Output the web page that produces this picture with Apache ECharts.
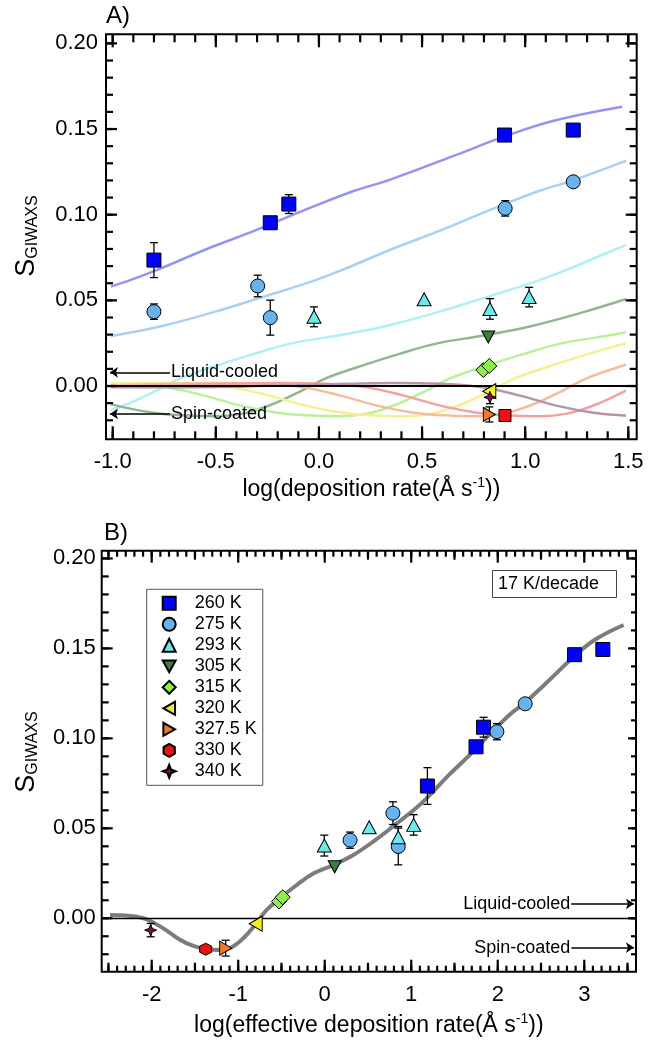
<!DOCTYPE html>
<html><head><meta charset="utf-8">
<script src="https://cdn.jsdelivr.net/npm/echarts@6/dist/echarts.min.js"></script>
<style>html,body{margin:0;padding:0;background:#fff}#c{width:652px;height:1040px}</style>
</head><body><div id="c"></div>
<script>
const FONT = 'Liberation Sans, Arial, sans-serif';

// ================= DATA =================
const temps = ['260 K','275 K','293 K','305 K','315 K','320 K','327.5 K','330 K','340 K'];

// Panel A x = log(deposition rate); Panel B x = log(effective deposition rate); y = S_GIWAXS; e = error bar half-height
const xA_260 = [-0.800, -0.236, -0.146, 0.900, 1.233];
const xB_260 = [ 1.187,  1.749,  1.836, 2.888, 3.215];
const y_260  = [ 0.0735, 0.0953, 0.1062, 0.1465, 0.1494];
const e_260  = [ 0.0102, 0.0010, 0.0055, 0.0020, 0.0020];

const xA_275 = [-0.800, -0.297, -0.236, 0.903, 1.233];
const xB_275 = [ 0.293,  0.788,  0.850, 1.990, 2.317];
const y_275  = [ 0.0434, 0.0584, 0.0399, 0.1037, 0.1192];
const e_275  = [ 0.0045, 0.0063, 0.0102, 0.0045, 0];

const xA_293 = [-0.024, 0.510, 0.829, 1.019];
const xB_293 = [-0.005, 0.514, 0.850, 1.028];
const y_293  = [ 0.0404, 0.0506, 0.0450, 0.0519];
const e_293  = [ 0.0058, 0, 0.0060, 0.0057];

const xA_305 = [0.821];   const xB_305 = [0.115];   const y_305 = [0.0286];  const e_305 = [0];
const xA_315 = [0.797, 0.826]; const xB_315 = [-0.529, -0.486]; const y_315 = [0.0093, 0.0117]; const e_315 = [0, 0];
const xA_320 = [0.826];   const xB_320 = [-0.798];  const y_320 = [-0.0030]; const e_320 = [0];
const xA_3275 = [0.826];  const xB_3275 = [-1.145]; const y_3275 = [-0.0166]; const e_3275 = [0.0044];
const xA_330 = [0.902];   const xB_330 = [-1.376];  const y_330 = [-0.0172]; const e_330 = [0];
const xA_340 = [0.829];   const xB_340 = [-2.012];  const y_340 = [-0.0066]; const e_340 = [0.0037];

// master curve (panel B, grey)
const masterX = [-2.482,-2.251,-2.058,-1.866,-1.673,-1.519,-1.376,-1.210,-1.075,-0.941,-0.798,-0.671,-0.517,-0.324,-0.132,0.099,0.331,0.572,0.812,1.053,1.197,1.436,1.677,1.917,2.157,2.317,2.638,2.879,3.119,3.455];
const masterY = [0.0018,0.0013,-0.0006,-0.0056,-0.0119,-0.0154,-0.0171,-0.0176,-0.0161,-0.0111,-0.0032,0.0046,0.0111,0.0185,0.0249,0.0296,0.0352,0.0430,0.0519,0.0611,0.0676,0.0797,0.0908,0.1028,0.1140,0.1199,0.1343,0.1454,0.1547,0.1630];
const leadX = [-3.90, -3.30, -2.95, -2.70];
const leadY = [-0.0008, -0.0005, 0.0005, 0.0013];
// horizontal shift between panels (B = A + shift), 17 K/decade
const shiftAB = [1.985, 1.087, 0.000, -0.706, -1.310, -1.624, -1.971, -2.278, -2.841];

// reference levels (liquid-cooled, spin-coated)
const refLC = 0.008, refSC = -0.0163;

// tick values
const aXMajor = [-1.0, -0.5, 0.0, 0.5, 1.0, 1.5];
const yMajor  = [0.00, 0.05, 0.10, 0.15, 0.20];
const bXMajor = [-2, -1, 0, 1, 2, 3];
const bXMid   = [-2.5, -1.5, -0.5, 0.5, 1.5, 2.5, 3.5];
const steps = (a, b, d) => { const o = []; for (let i = 0; a + i * d <= b + 1e-9; i++) o.push(Math.round((a + i * d) * 1000) / 1000); return o; };
const aXMinor = steps(-1.0, 1.5, 0.1);
const bXMinor = steps(-2.5, 3.5, 0.1);
const yMinor  = steps(-0.02, 0.20, 0.01);

// ================= STYLE =================
const markerColor = ['#0000ff','#66b3f0','#6ee8e8','#3d7d3d','#8fee4c','#f2ee2a','#f07a28','#ee1111','#7a1040'];
const curveColor  = ['#9494ee','#a9d0f4','#aef0f4','#92b592','#b8f09c','#f4f090','#f4bc9c','#f0a2a2','#b892a8'];
const SYM = {
  sq:'rect', ci:'circle', up:'triangle',
  dn:'path://M0,0L10,0L5,9Z', di:'diamond',
  lt:'path://M0,5L9,0L9,10Z', rt:'path://M9,5L0,0L0,10Z',
  hex:'path://M5,0L9.33,2.5L9.33,7.5L5,10L0.67,7.5L0.67,2.5Z',
  star:'path://M5,0L6.4,3.6L10,5L6.4,6.4L5,10L3.6,6.4L0,5L3.6,3.6Z'
};
const symA = [SYM.sq, SYM.ci, SYM.up, SYM.dn, SYM.di, SYM.lt, SYM.rt, SYM.sq, SYM.star];
const symB = [SYM.sq, SYM.ci, SYM.up, SYM.dn, SYM.di, SYM.lt, SYM.rt, SYM.hex, SYM.star];
const symSize = [14, 14, [14,13], [13,12], 15, [13,15], [12,14], 12, 12];

const XA = [xA_260, xA_275, xA_293, xA_305, xA_315, xA_320, xA_3275, xA_330, xA_340];
const XB = [xB_260, xB_275, xB_293, xB_305, xB_315, xB_320, xB_3275, xB_330, xB_340];
const YS = [y_260, y_275, y_293, y_305, y_315, y_320, y_3275, y_330, y_340];
const ES = [e_260, e_275, e_293, e_305, e_315, e_320, e_3275, e_330, e_340];

// ================= AXES =================
const A = {min: -1.0325, max: 1.5407, ymin: -0.0311, ymax: 0.2053};
const B = {min: -2.578, max: 3.598, ymin: -0.0297, ymax: 0.2043};

function ax(o) {
  const a = {
    type: 'value', gridIndex: o.grid, min: o.min, max: o.max, position: o.pos,
    axisLine: {show: false, onZero: false},
    splitLine: {show: false}, minorTick: {show: false},
    axisTick: {show: false},
    axisLabel: {show: false}
  };
  if (o.labels) a.axisLabel = {show: true, customValues: o.labels, formatter: o.fmt, fontSize: 22, fontFamily: FONT, color: '#000', margin: o.margin || 10};
  if (o.name) {
    a.name = o.name; a.nameLocation = 'middle'; a.nameGap = o.nameGap;
    a.nameTextStyle = {color: '#000', rich: {
      t: {fontSize: 23, fontFamily: FONT, color: '#000'},
      s: {fontSize: 14, fontFamily: FONT, color: '#000', padding: [0, 0, 13, 0]}
    }};
  }
  if (o.hidden) a.show = false;
  return a;
}
const f1 = v => v.toFixed(1), f2 = v => v.toFixed(2), f0 = v => String(Math.round(v));

const xAxis = [
  ax({grid:0, min:A.min, max:A.max, pos:'bottom', labels:aXMajor, fmt:f1, margin:12,
      name:'{t|log(deposition rate(Å s}{s|-1}{t|))}', nameGap:37}),
  ax({grid:1, min:-1.0, max:1.48, pos:'bottom', hidden:true}),
  ax({grid:2, min:B.min, max:B.max, pos:'bottom', labels:bXMajor, fmt:f0, margin:12,
      name:'{t|log(effective deposition rate(Å s}{s|-1}{t|))}', nameGap:40})
];
const yAxis = [
  ax({grid:0, min:A.ymin, max:A.ymax, pos:'left', labels:yMajor, fmt:f2, margin:8}),
  ax({grid:1, min:A.ymin, max:A.ymax, pos:'left', hidden:true}),
  ax({grid:2, min:B.ymin, max:B.ymax, pos:'left', labels:yMajor, fmt:f2, margin:6})
];

// ================= SERIES =================
const series = [];
const master = masterX.map((x, i) => [x, masterY[i]]);
const modelA = leadX.map((x, i) => [x, leadY[i]]).concat(master);

// inward frame ticks drawn through the axes' scales
function xTickSeries(gi, vals, edge, len) {   // len > 0 : upward from edge, len < 0 : downward
  return {type:'custom', xAxisIndex:gi, yAxisIndex:gi, silent:true, z:4,
    data: vals.map(v => [v, 0]), encode:{x:0, y:1},
    renderItem: (params, api) => {
      const p = api.coord([api.value(0), edge]);
      return {type:'line', shape:{x1:p[0], y1:p[1], x2:p[0], y2:p[1] - len}, style:{stroke:'#000', lineWidth:2.2}};
    }};
}
function yTickSeries(gi, vals, edge, len) {   // len > 0 : rightward from edge, len < 0 : leftward
  return {type:'custom', xAxisIndex:gi, yAxisIndex:gi, silent:true, z:4,
    data: vals.map(v => [0, v]), encode:{x:0, y:1},
    renderItem: (params, api) => {
      const p = api.coord([edge, api.value(1)]);
      return {type:'line', shape:{x1:p[0], y1:p[1], x2:p[0] + len, y2:p[1]}, style:{stroke:'#000', lineWidth:2.2}};
    }};
}
series.push(
  xTickSeries(0, aXMajor, A.ymin, 13), xTickSeries(0, aXMinor, A.ymin, 8),
  xTickSeries(0, aXMajor, A.ymax, -13), xTickSeries(0, aXMinor, A.ymax, -8),
  yTickSeries(0, yMajor, A.min, 11), yTickSeries(0, yMinor, A.min, 7),
  yTickSeries(0, yMajor, A.max, -11), yTickSeries(0, yMinor, A.max, -7),
  xTickSeries(2, bXMajor, B.ymin, 12), xTickSeries(2, bXMid, B.ymin, 9), xTickSeries(2, bXMinor, B.ymin, 6),
  xTickSeries(2, bXMajor, B.ymax, -12), xTickSeries(2, bXMid, B.ymax, -9), xTickSeries(2, bXMinor, B.ymax, -6),
  yTickSeries(2, yMajor, B.min, 11), yTickSeries(2, yMinor, B.min, 7),
  yTickSeries(2, yMajor, B.max, -8), yTickSeries(2, yMinor, B.max, -5)
);

// panel A model curves
temps.forEach((t, i) => {
  series.push({type:'line', xAxisIndex:1, yAxisIndex:1, silent:true, symbol:'none', smooth:0.4, clip:true, z:2,
    data: modelA.map(p => [p[0] - shiftAB[i], p[1]]),
    lineStyle:{color:curveColor[i], width:2.5}});
});
// panel B master curve
series.push({type:'line', xAxisIndex:2, yAxisIndex:2, silent:true, symbol:'none', smooth:0.4, z:2,
  data: master, lineStyle:{color:'#7c7c7c', width:4}});

function errSeries(xi, yi, pts) {
  return {type:'custom', xAxisIndex:xi, yAxisIndex:yi, silent:true, z:4, data: pts,
    encode:{x:0, y:1},
    renderItem: (params, api) => {
      const x = api.value(0), y = api.value(1), e = api.value(2);
      if (!e) return null;
      const t = api.coord([x, y + e]), b = api.coord([x, y - e]), hw = 4;
      const st = {stroke:'#000', lineWidth:1.3};
      return {type:'group', children:[
        {type:'line', shape:{x1:t[0], y1:t[1], x2:b[0], y2:b[1]}, style:st},
        {type:'line', shape:{x1:t[0]-hw, y1:t[1], x2:t[0]+hw, y2:t[1]}, style:st},
        {type:'line', shape:{x1:b[0]-hw, y1:b[1], x2:b[0]+hw, y2:b[1]}, style:st}
      ]};
    }};
}
const errA = [], errB = [];
temps.forEach((t, i) => YS[i].forEach((y, j) => { errA.push([XA[i][j], y, ES[i][j]]); errB.push([XB[i][j], y, ES[i][j]]); }));
series.push(errSeries(0, 0, errA));
series.push(errSeries(2, 2, errB));

const arrowLabel = {show:true, position:'start', distance:1, fontSize:18, fontFamily:FONT, color:'#000', padding:[0,0,10,0]};
function refLines(x0, x1) {
  return {silent:true, symbol:['none','arrow'], symbolSize:8, animation:false,
    lineStyle:{color:'#000', width:1.5, type:'solid'},
    label: arrowLabel,
    data:[
      [{coord:[x0, refLC], label:{formatter:'Liquid-cooled'}}, {coord:[x1, refLC]}],
      [{coord:[x0, refSC], label:{formatter:'Spin-coated'}}, {coord:[x1, refSC]}]
    ]};
}
const zeroLine = w => ({silent:true, symbol:'none', animation:false, label:{show:false},
  lineStyle:{color:'#000', width:w, type:'solid'}, data:[{yAxis:0}]});

temps.forEach((t, i) => {
  const sA = {type:'scatter', name:t, xAxisIndex:0, yAxisIndex:0, z:5,
    data: XA[i].map((x, j) => [x, YS[i][j]]), symbol:symA[i], symbolSize:symSize[i],
    itemStyle:{color:markerColor[i], borderColor:'#000', borderWidth:1, opacity:1}};
  const sB = {type:'scatter', name:t, xAxisIndex:2, yAxisIndex:2, z:5,
    data: XB[i].map((x, j) => [x, YS[i][j]]), symbol:symB[i], symbolSize:symSize[i],
    itemStyle:{color:markerColor[i], borderColor:'#000', borderWidth:1, opacity:1}};
  if (i === 0) { sA.markLine = refLines(-0.722, -1.013); sB.markLine = refLines(2.85, 3.574); }
  if (i === 1) { sA.markLine = zeroLine(1.8); sB.markLine = zeroLine(1.3); }
  series.push(sB, sA);
});

const yTitle = (y) => ({type:'text', x:27, y:y, rotation:Math.PI/2, silent:true,
  style:{text:'{s|S}{g|GIWAXS}', align:'center', verticalAlign:'middle',
    rich:{s:{fontSize:27, fontFamily:FONT, fill:'#000', verticalAlign:'bottom', lineHeight:27},
          g:{fontSize:16, fontFamily:FONT, fill:'#000', verticalAlign:'bottom', lineHeight:27}}}});

const option = {
  animation: false,
  backgroundColor: '#fff',
  title: [
    {text:'A)', left:106, top:4, padding:0, textStyle:{fontSize:24, fontWeight:'normal', fontFamily:FONT, color:'#000'}},
    {text:'B)', left:104, top:521, padding:0, textStyle:{fontSize:24, fontWeight:'normal', fontFamily:FONT, color:'#000'}},
    {text:'17 K/decade', left:492, top:570, padding:[5,18,5,6], borderColor:'#444', borderWidth:1,
      textStyle:{fontSize:18, fontWeight:'normal', fontFamily:FONT, color:'#000'}}
  ],
  grid: [
    {left:106, top:34.3, width:530.7, height:405, show:true, borderColor:'#000', borderWidth:2, backgroundColor:'transparent'},
    {left:112.7, top:34.3, width:511.5, height:405, show:false},
    {left:101.7, top:550.7, width:534.3, height:421, show:true, borderColor:'#000', borderWidth:2, backgroundColor:'transparent'}
  ],
  legend: {
    orient:'vertical', left:146.7, top:589.3, padding:[5,6,5,15], itemGap:3,
    itemWidth:13, itemHeight:13, selectedMode:false,
    borderColor:'#555', borderWidth:1, backgroundColor:'#fff',
    textStyle:{fontSize:18, fontFamily:FONT, color:'#000', lineHeight:18, padding:[0,0,0,14]},
    data: temps.map((t, i) => ({name:t, icon:symB[i]}))
  },
  graphic: [yTitle(236), yTitle(752)],
  xAxis, yAxis, series
};
const chart = echarts.init(document.getElementById('c'), null, {renderer:'canvas'});
chart.setOption(option);
</script></body></html>
